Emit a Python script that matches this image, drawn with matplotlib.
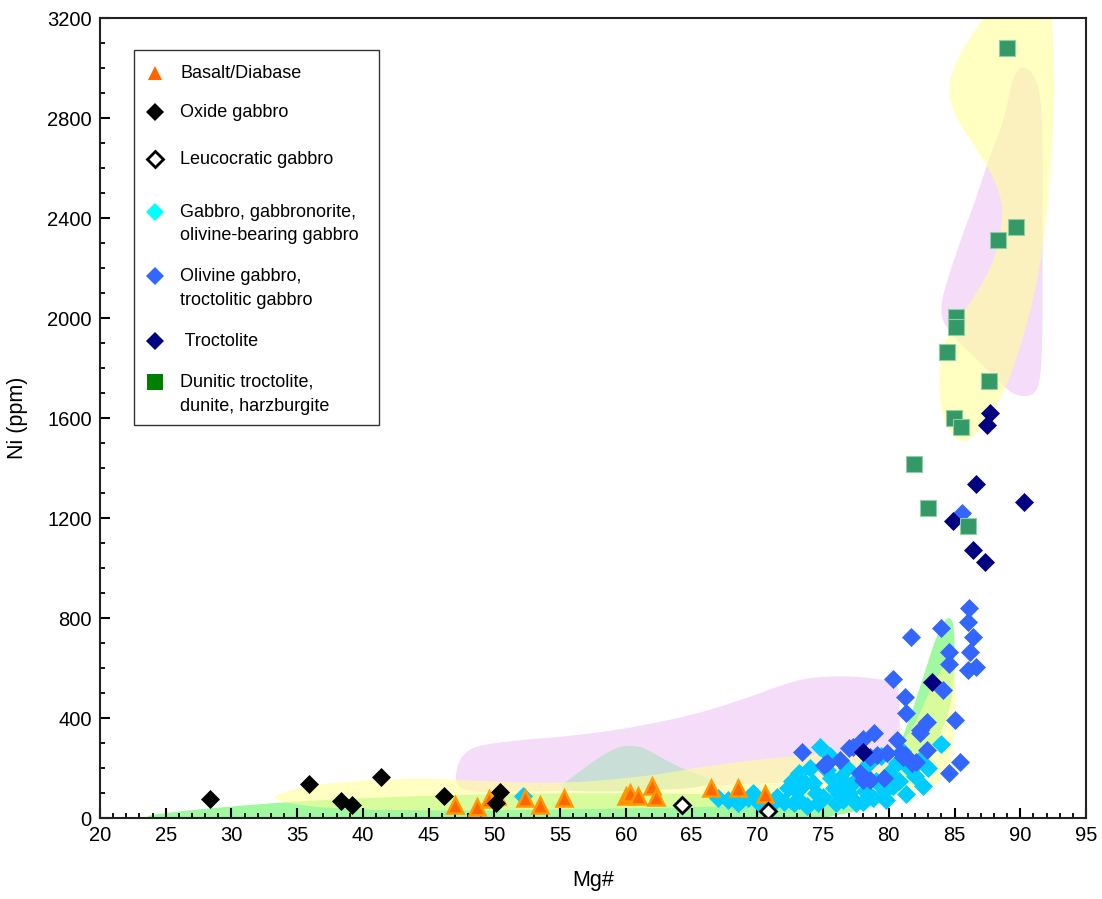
import matplotlib.pyplot as plt
import numpy as np
from matplotlib.patches import Polygon, Rectangle
from matplotlib.ticker import MultipleLocator

plt.rcParams['font.family'] = ['Liberation Sans', 'DejaVu Sans']

# ---- sample data (Mg#, Ni ppm) ----
basalt_mg = [47.0, 48.7, 49.6, 50.2, 52.3, 53.5, 55.3, 60.0, 60.3, 60.9, 62.0, 62.3, 66.5, 68.5, 70.6]
basalt_ni = [52, 44, 76, 88, 80, 52, 80, 88, 100, 88, 128, 84, 120, 120, 96]

oxide_mg = [28.4, 35.9, 38.3, 39.2, 41.4, 46.2, 50.1, 50.4]
oxide_ni = [76, 136, 68, 52, 164, 88, 60, 104]

leuco_mg = [64.3, 70.8]
leuco_ni = [52, 28]

gabbro_mg = [52.2, 67.0, 67.8, 68.5, 69.3, 69.7, 70.2, 70.5, 71.5, 72.3, 72.8, 73.2, 73.2, 73.6,
             74.2, 74.5, 74.8, 75.0, 75.3, 75.5, 75.8, 76.0, 76.3, 76.8, 77.0, 77.3, 77.5,
             77.8, 78.2, 78.5, 78.8, 79.0, 79.4, 79.7, 80.0, 80.3, 80.6, 80.8, 81.0, 81.5,
             82.0, 82.3, 82.6, 83.0, 84.0, 71.0, 72.0, 73.8, 76.5, 78.0, 79.8, 81.3,
             72.6, 74.0, 75.6, 77.0, 78.4, 73.0, 74.6, 76.2]
gabbro_ni = [88, 80, 72, 60, 80, 100, 56, 68, 84, 120, 60, 180, 72, 140,
             140, 100, 284, 84, 192, 250, 120, 60, 160, 200, 100, 140, 60,
             180, 110, 220, 80, 150, 250, 110, 180, 130, 220, 150, 270, 200,
             170, 230, 130, 200, 296, 48, 64, 48, 72, 64, 72, 96,
             150, 200, 160, 130, 160, 110, 60, 96]

olivine_mg = [86.1, 86.0, 81.7, 84.0, 86.4, 84.6, 86.2, 84.6, 86.0, 86.6, 80.3, 84.1, 81.2,
              81.3, 85.0, 82.9, 82.4, 78.9, 78.0, 73.4, 77.0, 80.6, 82.9, 79.9, 75.3, 76.3,
              79.1, 81.2, 82.1, 85.4, 84.6, 77.8, 79.6, 78.6, 81.8, 78.6, 81.1, 82.4, 85.6,
              75.1, 77.3, 78.0, 80.9]
olivine_ni = [840, 784, 724, 760, 724, 664, 664, 616, 592, 604, 556, 512, 484,
              420, 392, 384, 340, 340, 316, 264, 280, 312, 272, 260, 220, 232,
              252, 252, 224, 224, 180, 180, 160, 152, 220, 244, 244, 352, 1220,
              212, 284, 152, 260]

troct_mg = [78.0, 83.3, 84.9, 86.4, 87.3, 86.6, 87.5, 87.7, 90.3]
troct_ni = [264, 544, 1188, 1072, 1024, 1336, 1572, 1620, 1264]

dunite_mg = [81.9, 83.0, 84.4, 84.95, 85.1, 85.1, 85.5, 86.0, 87.6, 88.3, 89.0, 89.7]
dunite_ni = [1416, 1240, 1864, 1600, 2004, 1964, 1564, 1168, 1748, 2312, 3080, 2364]

# ---- compositional fields (outline vertices, Mg# / Ni) ----
green_field = [(23.04, 8), (27.61, 36), (35.21, 68), (42.82, 86), (50.43, 96), (58.03, 100),
               (65.64, 96), (71.72, 88), (77.05, 112), (79.71, 184), (80.85, 292), (81.76, 424),
               (82.75, 584), (83.51, 712), (84.27, 792), (84.65, 804), (84.96, 772), (85.03, 632),
               (84.88, 492), (84.27, 372), (83.13, 252), (81.61, 132), (79.33, 52), (76.29, 12),
               (73.25, -16), (50.43, -24), (35.21, -16), (24.56, -8)]
yellow_low = [(32.93, 84), (35.21, 124), (39.02, 148), (44.34, 160), (48.14, 150), (54.99, 136),
              (61.84, 168), (65.64, 204), (71.72, 244), (77.05, 264), (80.62, 280), (81.99, 372),
              (83.13, 512), (84.05, 600), (84.65, 632), (85.03, 592), (85.11, 472), (84.96, 312),
              (84.65, 192), (83.67, 132), (81.61, 92), (77.05, 64), (69.44, 48), (58.03, 36),
              (46.62, 28), (37.72, 36), (34.07, 60)]
yellow_high = [(88.6, 3320), (87.2, 3200), (85.4, 3060), (84.5, 2940), (84.8, 2830), (86.2, 2712),
               (87.5, 2612), (88.5, 2492), (88.7, 2412), (88.3, 2272), (87.3, 2152), (85.8, 2032),
               (84.4, 1932), (83.9, 1832), (83.8, 1692), (84.3, 1572), (85.3, 1504), (86.3, 1512),
               (87.7, 1612), (89.0, 1724), (90.4, 1952), (91.5, 2192), (92.3, 2552), (92.6, 2872),
               (92.5, 3112), (92.3, 3320)]
pink_low = [(47.0, 132), (47.16, 212), (47.76, 264), (48.9, 292), (51.95, 312), (55.75, 328),
            (59.33, 352), (62.6, 384), (65.64, 420), (69.44, 484), (72.48, 544), (74.39, 564),
            (77.05, 568), (79.33, 556), (80.47, 540), (80.78, 512), (80.85, 352), (80.85, 212),
            (78.57, 172), (73.25, 144), (65.64, 128), (58.03, 112), (50.43, 104), (48.14, 104)]
pink_high = [(90.1, 3012), (90.9, 2984), (91.5, 2912), (91.7, 2752), (91.7, 2272), (91.7, 1912),
             (91.5, 1732), (90.9, 1688), (89.8, 1688), (89.0, 1712), (86.9, 1824), (85.0, 1920),
             (84.0, 1992), (84.0, 2072), (84.7, 2192), (85.6, 2332), (86.6, 2472), (87.5, 2620),
             (88.5, 2752), (89.1, 2872), (89.4, 2960)]
grey_bump = [(54.61, 112), (56.13, 172), (57.65, 232), (59.17, 280), (60.31, 292), (61.46, 280),
             (62.98, 232), (64.88, 184), (66.78, 152), (65.64, 120), (61.84, 112), (58.03, 104)]

legend_labels = ['Basalt/Diabase', 'Oxide gabbro', 'Leucocratic gabbro',
                 'Gabbro, gabbronorite,\nolivine-bearing gabbro',
                 'Olivine gabbro,\ntroctolitic gabbro', ' Troctolite',
                 'Dunitic troctolite,\ndunite, harzburgite']


def smooth(pts, n=3):
    # Chaikin corner cutting for a closed outline
    p = np.asarray(pts, float)
    for _ in range(n):
        q = np.roll(p, -1, axis=0)
        new = np.empty((2 * len(p), 2))
        new[0::2] = 0.75 * p + 0.25 * q
        new[1::2] = 0.25 * p + 0.75 * q
        p = new
    return p


fig = plt.figure(figsize=(11.02, 8.99), dpi=100)
ax = fig.add_axes([100 / 1102, 81 / 899, 986 / 1102, 800 / 899])

ax.add_patch(Polygon(smooth(pink_low), closed=True, fc='#f5ddfa', ec='none', zorder=1))
ax.add_patch(Polygon(smooth(pink_high), closed=True, fc='#f5ddfa', ec='none', zorder=1))
ax.add_patch(Polygon(smooth(grey_bump), closed=True, fc='#c8ded6', ec='none', zorder=1.1))
ax.add_patch(Polygon(smooth(green_field), closed=True, fc='#a0f8a0', ec='none', zorder=1.2))
ax.add_patch(Polygon(smooth(yellow_low), closed=True, fc='#ffff99', ec='none', alpha=0.6, zorder=1.3))
ax.add_patch(Polygon(smooth(yellow_high), closed=True, fc='#ffff99', ec='none', alpha=0.6, zorder=1.3))

ax.plot(gabbro_mg, gabbro_ni, ls='none', marker='D', ms=9.4, mfc='#00ccff', mec='#00ccff', mew=0.5, zorder=3)
ax.plot(olivine_mg, olivine_ni, ls='none', marker='D', ms=9.2, mfc='#3366ff', mec='#3366ff', mew=0.5, zorder=4)
ax.plot(troct_mg, troct_ni, ls='none', marker='D', ms=9.2, mfc='#000080', mec='#000080', mew=0.5, zorder=5)
ax.plot(basalt_mg, basalt_ni, ls='none', marker='^', ms=12, mfc='#ff6600', mec='#ff9900', mew=1.8, zorder=6)
ax.plot(oxide_mg, oxide_ni, ls='none', marker='D', ms=9.6, mfc='black', mec='black', mew=0.5, zorder=6)
ax.plot(leuco_mg, leuco_ni, ls='none', marker='D', ms=8, mfc='white', mec='black', mew=2, zorder=7)
ax.plot(dunite_mg, dunite_ni, ls='none', marker='s', ms=12, mfc='#339966', mec='#8fcfa5', mew=0.8, zorder=8)

ax.set_xlim(20, 95)
ax.set_ylim(0, 3200)
ax.xaxis.set_major_locator(MultipleLocator(5))
ax.xaxis.set_minor_locator(MultipleLocator(1))
ax.yaxis.set_major_locator(MultipleLocator(400))
ax.yaxis.set_minor_locator(MultipleLocator(100))
ax.tick_params(which='major', direction='in', length=7, width=1.5, labelsize=14.5, pad=6,
               top=False, right=False)
ax.tick_params(which='minor', direction='in', length=3.5, width=1.3, top=False, right=False)
for s in ax.spines.values():
    s.set_linewidth(1.5)
    s.set_color('#222222')
    s.set_zorder(9)

ax.set_xlabel('Mg#', fontsize=15.5, labelpad=18)
ax.set_ylabel('Ni (ppm)', fontsize=15.5, labelpad=14)

# legend box drawn by hand to keep marker on first text line
def axpt(px, py):
    return (px - 100) / 986, (818 - py) / 800

x0, y0 = axpt(134, 425)
x1, y1 = axpt(379, 50)
ax.add_patch(Rectangle((x0, y0), x1 - x0, y1 - y0, transform=ax.transAxes, fc='white',
                       ec='#333333', lw=1, zorder=10, clip_on=False))
leg_styles = [dict(marker='^', ms=10, mfc='#ff6600', mec='#ff6600', mew=0),
              dict(marker='D', ms=9.2, mfc='black', mec='black', mew=0),
              dict(marker='D', ms=8, mfc='white', mec='black', mew=2),
              dict(marker='D', ms=9.2, mfc='#00ffff', mec='#00ffff', mew=0),
              dict(marker='D', ms=9.2, mfc='#3366ff', mec='#3366ff', mew=0),
              dict(marker='D', ms=9.2, mfc='#000080', mec='#000080', mew=0),
              dict(marker='s', ms=12, mfc='#008000', mec='#008000', mew=0)]
leg_rows = [73, 112, 159, 212, 276, 341, 382]
for label, st, py in zip(legend_labels, leg_styles, leg_rows):
    mx, my = axpt(155, py)
    ax.plot([mx], [my], ls='none', transform=ax.transAxes, clip_on=False, zorder=11, **st)
    for k, line in enumerate(label.split('\n')):
        tx, ty = axpt(180, py + k * 24)
        ax.text(tx, ty, line, transform=ax.transAxes, fontsize=13, va='center', ha='left',
                zorder=11)

fig.savefig('out.png', dpi=100)
